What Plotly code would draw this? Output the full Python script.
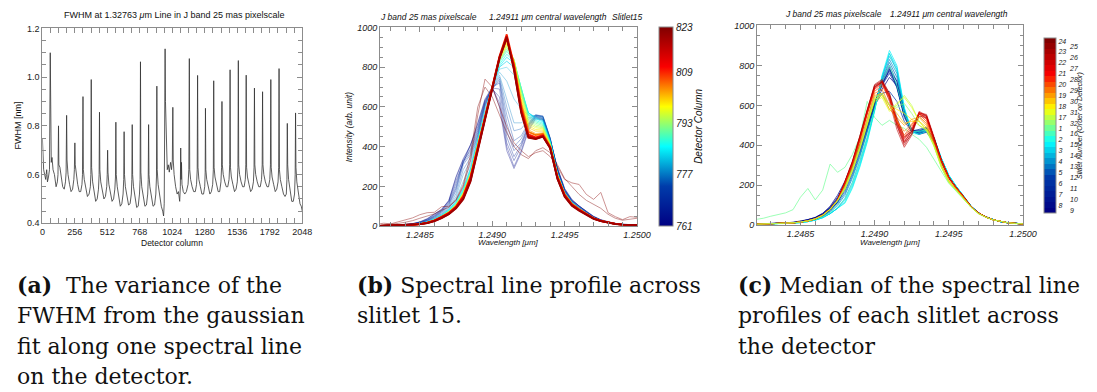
import plotly.graph_objects as go
from plotly.colors import sample_colorscale

# ---------------- data: panel (a) FWHM along detector ----------------
fwhm_col = [0, 4, 10, 18, 26, 34, 40, 48, 56,
            62, 65, 70, 76, 84, 95, 108, 118, 123,
            127, 130, 138, 150, 160, 172, 182, 187,
            191, 194, 202, 214, 226, 238, 248, 252,
            256, 259, 266, 278, 290, 302, 312, 316,
            320, 323, 330, 342, 355, 368, 378, 382,
            385, 388, 396, 408, 420, 432, 442, 447,
            450, 453, 460, 472, 485, 497, 507, 511,
            514, 517, 524, 536, 549, 561, 571, 576,
            579, 582, 590, 602, 614, 626, 636, 641,
            644, 647, 654, 666, 679, 691, 701, 705,
            708, 711, 718, 730, 743, 755, 765, 770,
            773, 776, 783, 795, 808, 820, 830, 834,
            837, 840, 847, 859, 872, 884, 894, 899,
            902, 905, 912, 924, 937, 948, 955, 960, 964,
            967, 970, 974, 978, 984, 992, 1000, 1010, 1018, 1024,
            1028, 1031, 1038, 1050, 1062, 1072, 1082, 1087,
            1090, 1093, 1096, 1100, 1110, 1122, 1135, 1148, 1154,
            1158, 1161, 1168, 1180, 1192, 1205, 1215, 1220,
            1223, 1226, 1233, 1245, 1257, 1270, 1279, 1283,
            1285, 1288, 1295, 1307, 1320, 1332, 1342, 1347,
            1350, 1353, 1360, 1372, 1385, 1397, 1407, 1412,
            1415, 1418, 1425, 1437, 1449, 1461, 1471, 1476,
            1479, 1482, 1489, 1501, 1514, 1526, 1536, 1541,
            1544, 1547, 1554, 1566, 1578, 1590, 1599, 1603,
            1606, 1609, 1616, 1628, 1641, 1653, 1663, 1668,
            1671, 1674, 1681, 1693, 1705, 1717, 1727, 1732,
            1735, 1738, 1745, 1757, 1770, 1782, 1792, 1797,
            1800, 1803, 1810, 1822, 1835, 1847, 1857, 1862,
            1865, 1868, 1875, 1887, 1900, 1912, 1922, 1927,
            1930, 1933, 1940, 1952, 1965, 1977, 1987, 1992,
            1995, 1998, 2005, 2017, 2030, 2040, 2048]
fwhm_val = [0.75, 0.69, 0.62, 0.60, 0.58, 0.62, 0.57, 0.59, 0.62,
            1.10, 0.68, 0.65, 0.67, 0.62, 0.60, 0.55, 0.57, 0.60,
            0.80, 0.64, 0.63, 0.58, 0.55, 0.54, 0.57, 0.61,
            0.843, 0.66, 0.60, 0.56, 0.53, 0.54, 0.58, 0.62,
            0.73, 0.64, 0.60, 0.56, 0.53, 0.53, 0.56, 0.60,
            0.92, 0.62, 0.58, 0.54, 0.51, 0.52, 0.55, 0.60,
            0.99, 0.63, 0.57, 0.53, 0.49, 0.50, 0.54, 0.60,
            0.856, 0.62, 0.57, 0.53, 0.50, 0.51, 0.55, 0.60,
            0.70, 0.61, 0.56, 0.52, 0.49, 0.50, 0.54, 0.59,
            0.815, 0.60, 0.55, 0.51, 0.47, 0.48, 0.52, 0.58,
            0.776, 0.60, 0.55, 0.51, 0.475, 0.48, 0.52, 0.58,
            0.805, 0.60, 0.55, 0.50, 0.465, 0.47, 0.52, 0.58,
            1.063, 0.61, 0.55, 0.51, 0.47, 0.475, 0.52, 0.58,
            0.805, 0.60, 0.55, 0.51, 0.47, 0.475, 0.52, 0.59,
            0.963, 0.62, 0.56, 0.51, 0.47, 0.45, 0.43, 0.48, 0.70,
            1.116, 0.90, 0.84, 0.70, 0.62, 0.64, 0.61, 0.65, 0.62, 0.66,
            0.876, 0.66, 0.60, 0.55, 0.52, 0.53, 0.49, 0.55,
            0.709, 0.58, 0.65, 0.56, 0.53, 0.52, 0.53, 0.56, 0.62,
            1.076, 0.62, 0.58, 0.55, 0.53, 0.53, 0.56, 0.62,
            1.007, 0.63, 0.58, 0.55, 0.52, 0.52, 0.55, 0.61,
            0.872, 0.62, 0.58, 0.55, 0.52, 0.53, 0.56, 0.62,
            0.985, 0.63, 0.59, 0.56, 0.53, 0.53, 0.57, 0.63,
            0.90, 0.64, 0.60, 0.57, 0.55, 0.55, 0.58, 0.64,
            1.03, 0.63, 0.59, 0.56, 0.53, 0.54, 0.57, 0.63,
            1.068, 0.64, 0.60, 0.57, 0.55, 0.55, 0.58, 0.64,
            1.008, 0.63, 0.59, 0.56, 0.53, 0.54, 0.57, 0.63,
            0.955, 0.64, 0.60, 0.57, 0.55, 0.55, 0.58, 0.64,
            0.94, 0.64, 0.60, 0.57, 0.55, 0.55, 0.58, 0.64,
            0.99, 0.63, 0.59, 0.56, 0.53, 0.54, 0.57, 0.63,
            1.035, 0.62, 0.58, 0.55, 0.52, 0.51, 0.52, 0.58,
            0.81, 0.64, 0.58, 0.53, 0.49, 0.49, 0.52, 0.60,
            0.853, 0.63, 0.57, 0.52, 0.48, 0.47, 0.45]
assert len(fwhm_col) == len(fwhm_val)

fwhm_xticks = [0, 256, 512, 768, 1024, 1280, 1536, 1792, 2048]
fwhm_yticks = [0.4, 0.6, 0.8, 1.0, 1.2]

# ---------------- shared wavelength grid (um) for panels (b) and (c) ----------------
wavelength = [1.24820, 1.24825, 1.24830, 1.24835, 1.24840, 1.24845, 1.24850, 1.24855,
              1.24860, 1.24865, 1.24870, 1.24875, 1.24880, 1.24885, 1.24890, 1.24895,
              1.24900, 1.24905, 1.24910, 1.24915, 1.24920, 1.24925, 1.24930, 1.24935,
              1.24940, 1.24945, 1.24950, 1.24955, 1.24960, 1.24965, 1.24970, 1.24975,
              1.24980, 1.24985, 1.24990, 1.24995, 1.25000]
wl_ticks = [1.2485, 1.2490, 1.2495, 1.2500]
int_ticks = [0, 200, 400, 600, 800, 1000]

# ---------------- panel (b): profiles across slitlet 15, per detector column ----------------
slitlet15_columns = [762, 763, 765, 767, 769, 771, 773, 775, 777, 779, 781, 783, 785, 787,
                     789, 791, 793, 795, 797, 799, 801, 803, 805, 809, 813, 817, 820, 822, 823]
slitlet15_profiles = [
    [2, 3, 5, 6, 9, 13, 22, 38, 60, 85, 130, 250, 340, 410, 520, 640, 700, 600, 380, 290, 370, 480, 540, 535, 430, 295, 190, 135, 102, 76, 50, 33, 22, 14, 10, 8, 6],
    [2, 3, 4, 6, 9, 13, 21, 36, 58, 84, 128, 245, 335, 405, 515, 635, 695, 620, 400, 300, 380, 490, 545, 538, 432, 292, 188, 133, 101, 75, 49, 32, 21, 14, 10, 8, 6],
    [2, 3, 4, 6, 8, 12, 20, 35, 55, 80, 125, 230, 320, 400, 500, 630, 690, 650, 420, 330, 400, 500, 550, 540, 435, 290, 185, 130, 100, 74, 48, 31, 21, 13, 9, 7, 6],
    [2, 3, 4, 6, 8, 12, 19, 32, 52, 78, 120, 215, 325, 390, 490, 625, 695, 690, 450, 350, 410, 505, 552, 545, 438, 288, 182, 129, 99, 73, 47, 31, 20, 13, 9, 7, 6],
    [2, 3, 4, 6, 8, 12, 18, 30, 50, 75, 115, 200, 330, 380, 480, 620, 700, 720, 480, 380, 420, 510, 555, 550, 440, 285, 180, 128, 98, 72, 46, 30, 20, 13, 9, 7, 6],
    [2, 3, 4, 5, 8, 11, 17, 29, 47, 72, 110, 190, 320, 370, 470, 615, 695, 730, 520, 400, 440, 515, 558, 552, 442, 282, 179, 126, 96, 71, 46, 30, 20, 13, 9, 7, 6],
    [2, 3, 4, 5, 7, 11, 17, 28, 45, 70, 105, 180, 310, 360, 460, 610, 690, 740, 560, 430, 455, 520, 560, 555, 445, 280, 178, 125, 95, 70, 45, 30, 20, 13, 9, 7, 6],
    [1, 2, 3, 5, 7, 10, 16, 26, 42, 66, 98, 165, 285, 345, 455, 605, 695, 750, 600, 480, 490, 535, 560, 552, 442, 278, 175, 123, 93, 68, 44, 29, 19, 12, 8, 6, 5],
    [1, 2, 3, 5, 7, 10, 15, 24, 40, 62, 92, 150, 260, 330, 450, 600, 700, 760, 640, 520, 520, 545, 558, 548, 440, 275, 172, 122, 92, 66, 43, 29, 19, 12, 8, 6, 5],
    [1, 2, 3, 5, 7, 9, 14, 23, 38, 60, 88, 140, 225, 310, 440, 585, 700, 775, 730, 640, 590, 560, 553, 542, 435, 272, 171, 121, 91, 65, 42, 28, 19, 12, 8, 6, 5],
    [1, 2, 3, 5, 6, 9, 14, 22, 36, 57, 85, 130, 195, 295, 435, 575, 700, 790, 800, 760, 660, 570, 548, 535, 430, 268, 170, 120, 90, 65, 42, 28, 19, 12, 8, 6, 5],
    [1, 2, 3, 4, 6, 8, 13, 21, 35, 55, 82, 125, 188, 288, 430, 572, 700, 800, 830, 800, 690, 570, 545, 530, 428, 266, 169, 119, 89, 64, 42, 28, 19, 12, 8, 6, 5],
    [1, 2, 3, 4, 6, 8, 13, 21, 34, 54, 80, 120, 182, 280, 425, 570, 700, 805, 850, 820, 700, 570, 540, 525, 425, 265, 168, 118, 89, 64, 42, 28, 19, 12, 8, 6, 5],
    [1, 2, 3, 4, 6, 8, 12, 20, 33, 53, 78, 117, 178, 275, 422, 567, 702, 815, 865, 830, 700, 562, 532, 518, 422, 263, 167, 117, 88, 64, 41, 28, 19, 12, 8, 6, 5],
    [1, 2, 3, 4, 6, 8, 12, 20, 33, 52, 76, 114, 175, 270, 420, 565, 705, 825, 880, 835, 700, 555, 525, 512, 420, 262, 166, 117, 88, 64, 41, 28, 19, 12, 8, 6, 5],
    [1, 2, 3, 4, 6, 8, 12, 19, 32, 51, 75, 112, 172, 267, 417, 562, 705, 830, 890, 838, 690, 545, 518, 506, 417, 261, 165, 116, 88, 64, 41, 28, 19, 12, 8, 6, 5],
    [1, 2, 3, 4, 6, 8, 12, 19, 32, 50, 74, 110, 170, 265, 415, 560, 705, 835, 900, 840, 680, 535, 510, 500, 415, 260, 165, 116, 88, 64, 41, 28, 19, 12, 8, 6, 5],
    [1, 2, 3, 4, 6, 8, 12, 19, 31, 49, 73, 108, 167, 262, 412, 557, 705, 838, 908, 838, 668, 525, 502, 495, 412, 259, 164, 115, 87, 63, 41, 27, 18, 12, 8, 6, 5],
    [1, 2, 3, 4, 6, 8, 12, 19, 31, 49, 72, 106, 165, 260, 410, 555, 705, 840, 915, 835, 655, 515, 495, 490, 410, 258, 163, 115, 87, 63, 41, 27, 18, 12, 8, 6, 5],
    [1, 2, 3, 4, 5, 7, 11, 18, 30, 48, 71, 104, 162, 257, 407, 552, 705, 842, 922, 830, 642, 505, 486, 484, 407, 256, 162, 114, 86, 62, 40, 27, 18, 12, 8, 6, 5],
    [1, 2, 3, 4, 5, 7, 11, 18, 30, 47, 70, 103, 160, 255, 405, 550, 705, 845, 930, 825, 630, 495, 478, 478, 405, 255, 162, 114, 86, 62, 40, 27, 18, 12, 8, 6, 5],
    [1, 2, 3, 4, 5, 7, 11, 18, 29, 46, 69, 101, 157, 252, 402, 549, 705, 848, 938, 820, 620, 485, 466, 470, 402, 253, 161, 113, 85, 62, 40, 27, 18, 12, 8, 6, 5],
    [1, 2, 3, 4, 5, 7, 11, 18, 29, 46, 68, 100, 155, 250, 400, 548, 705, 850, 945, 815, 610, 475, 458, 465, 400, 252, 160, 112, 85, 62, 40, 27, 18, 12, 8, 6, 5],
    [1, 2, 3, 4, 5, 7, 11, 17, 28, 44, 65, 96, 148, 240, 390, 540, 705, 855, 965, 810, 595, 462, 447, 458, 398, 248, 158, 110, 84, 61, 40, 27, 18, 12, 8, 6, 5],
    [1, 2, 3, 4, 5, 7, 11, 17, 28, 45, 66, 98, 150, 245, 395, 545, 705, 845, 945, 800, 585, 455, 443, 455, 395, 245, 155, 108, 82, 60, 39, 27, 18, 12, 8, 6, 5],
    [1, 2, 3, 4, 5, 7, 10, 16, 26, 42, 62, 92, 140, 230, 385, 535, 700, 850, 955, 790, 575, 448, 440, 452, 395, 240, 150, 105, 80, 58, 38, 26, 18, 12, 8, 6, 5],
    [1, 2, 3, 4, 5, 7, 10, 16, 25, 40, 60, 90, 135, 225, 380, 530, 700, 845, 950, 785, 570, 445, 438, 450, 392, 238, 148, 103, 78, 57, 37, 25, 17, 11, 8, 6, 5],
    [10, 15, 12, 22, 30, 42, 58, 68, 70, 98, 100, 130, 200, 330, 560, 740, 700, 600, 500, 420, 380, 350, 370, 380, 350, 300, 235, 218, 210, 160, 135, 170, 68, 48, 33, 48, 45],
    [5, 8, 10, 14, 20, 28, 40, 52, 62, 80, 95, 135, 210, 360, 600, 700, 650, 560, 470, 400, 360, 340, 380, 395, 370, 310, 240, 200, 160, 130, 110, 90, 60, 40, 30, 35, 40],
]
assert len(slitlet15_columns) == len(slitlet15_profiles)
detector_col_ticks = [761, 777, 793, 809, 823]

# ---------------- panel (c): median profile of each slitlet ----------------
median_profiles = {
    1: [29, 35, 45, 55, 62, 78, 140, 184, 127, 176, 306, 265, 290, 354, 440, 620, 540, 500, 525, 500, 485, 455, 430, 390, 330, 265, 210, 170, 130, 90, 60, 40, 26, 17, 11, 8, 6],
    2: [4, 5, 6, 7, 8, 10, 13, 18, 26, 38, 58, 85, 110, 185, 290, 415, 570, 740, 860, 770, 570, 460, 455, 468, 435, 335, 250, 195, 148, 96, 62, 42, 28, 18, 12, 9, 7],
    3: [4, 5, 6, 7, 8, 10, 13, 18, 26, 38, 58, 85, 125, 200, 305, 430, 575, 745, 860, 790, 585, 470, 460, 475, 440, 335, 250, 195, 148, 96, 62, 42, 28, 18, 12, 9, 7],
    4: [5, 6, 7, 8, 9, 11, 15, 20, 29, 43, 66, 100, 150, 235, 340, 460, 590, 730, 830, 760, 570, 470, 465, 480, 435, 330, 245, 192, 146, 96, 62, 42, 28, 18, 12, 9, 7],
    5: [5, 6, 7, 8, 10, 12, 16, 22, 32, 48, 75, 115, 170, 255, 360, 480, 600, 720, 800, 720, 560, 470, 470, 485, 430, 320, 240, 188, 143, 95, 62, 42, 28, 18, 12, 9, 7],
    6: [5, 6, 7, 8, 10, 12, 16, 22, 32, 48, 75, 115, 190, 280, 380, 490, 600, 660, 670, 620, 520, 470, 480, 490, 430, 320, 240, 188, 143, 95, 62, 42, 28, 18, 12, 9, 7],
    7: [5, 6, 7, 9, 11, 13, 18, 25, 36, 55, 85, 130, 200, 290, 390, 500, 620, 720, 790, 690, 540, 470, 470, 480, 420, 318, 238, 186, 142, 94, 62, 42, 28, 18, 12, 9, 7],
    8: [6, 7, 8, 9, 11, 14, 19, 27, 38, 58, 90, 140, 210, 300, 395, 500, 610, 700, 780, 720, 570, 470, 455, 465, 415, 318, 238, 185, 140, 94, 61, 41, 27, 18, 12, 9, 7],
    9: [6, 7, 8, 10, 12, 15, 20, 28, 40, 60, 95, 150, 220, 310, 400, 500, 600, 680, 740, 700, 560, 480, 460, 470, 420, 320, 240, 185, 140, 95, 62, 42, 28, 18, 12, 9, 7],
    10: [5, 6, 7, 9, 11, 13, 18, 26, 37, 56, 88, 135, 205, 295, 390, 500, 615, 710, 770, 700, 550, 470, 465, 478, 420, 318, 238, 186, 142, 94, 62, 42, 28, 18, 12, 9, 7],
    11: [5, 6, 7, 8, 10, 12, 17, 24, 35, 52, 82, 125, 195, 285, 385, 495, 610, 700, 760, 690, 550, 475, 475, 485, 425, 320, 240, 188, 143, 95, 62, 42, 28, 18, 12, 9, 7],
    12: [5, 6, 7, 8, 10, 12, 16, 22, 32, 48, 75, 115, 180, 265, 370, 485, 600, 710, 780, 700, 555, 470, 470, 482, 428, 322, 241, 189, 143, 95, 62, 42, 28, 18, 12, 9, 7],
    13: [5, 6, 7, 8, 10, 12, 15, 21, 30, 45, 70, 108, 160, 245, 350, 470, 595, 725, 815, 740, 565, 470, 468, 482, 432, 326, 243, 190, 144, 95, 62, 42, 28, 18, 12, 9, 7],
    14: [4, 5, 6, 7, 8, 10, 13, 18, 26, 38, 58, 85, 135, 215, 320, 440, 580, 740, 845, 780, 580, 470, 465, 480, 440, 335, 250, 195, 148, 96, 62, 42, 28, 18, 12, 9, 7],
    15: [4, 5, 6, 7, 8, 10, 13, 18, 26, 38, 58, 85, 115, 190, 295, 420, 570, 750, 875, 800, 590, 470, 455, 470, 438, 335, 250, 195, 148, 96, 62, 42, 28, 18, 12, 9, 7],
    16: [4, 5, 6, 7, 8, 10, 14, 19, 28, 41, 63, 95, 130, 210, 320, 440, 580, 720, 800, 700, 560, 470, 470, 478, 430, 325, 242, 190, 144, 95, 62, 42, 28, 18, 12, 9, 7],
    17: [5, 6, 7, 8, 10, 12, 16, 22, 32, 50, 80, 125, 185, 275, 385, 510, 630, 650, 580, 600, 650, 600, 520, 475, 395, 290, 215, 175, 135, 90, 58, 40, 27, 18, 12, 9, 7],
    18: [5, 6, 7, 8, 10, 12, 16, 22, 32, 50, 80, 125, 185, 275, 385, 510, 630, 650, 600, 580, 560, 530, 500, 480, 400, 295, 218, 178, 137, 91, 59, 40, 27, 18, 12, 9, 7],
    19: [5, 6, 7, 8, 10, 12, 16, 22, 32, 50, 80, 125, 195, 290, 400, 530, 650, 660, 580, 540, 500, 530, 540, 500, 410, 300, 222, 180, 138, 92, 60, 41, 27, 18, 12, 9, 7],
    20: [5, 6, 7, 8, 10, 12, 16, 22, 32, 50, 80, 125, 205, 300, 420, 555, 670, 700, 630, 530, 450, 500, 555, 520, 420, 325, 240, 188, 143, 94, 61, 41, 27, 18, 12, 9, 7],
    21: [5, 6, 7, 8, 10, 12, 16, 22, 32, 50, 80, 125, 210, 310, 430, 565, 685, 715, 650, 520, 430, 480, 560, 535, 430, 325, 240, 188, 143, 94, 61, 41, 27, 18, 12, 9, 7],
    22: [5, 6, 7, 8, 10, 12, 16, 22, 32, 50, 80, 125, 215, 315, 440, 575, 700, 725, 640, 500, 400, 460, 570, 550, 440, 325, 240, 188, 143, 94, 61, 41, 27, 18, 12, 9, 7],
    23: [5, 6, 7, 8, 10, 12, 16, 22, 32, 50, 80, 125, 220, 320, 445, 580, 705, 730, 660, 520, 420, 470, 565, 548, 440, 325, 240, 188, 143, 94, 61, 41, 27, 18, 12, 9, 7],
    24: [5, 6, 7, 8, 10, 12, 16, 22, 32, 50, 80, 125, 210, 305, 430, 565, 690, 720, 660, 540, 440, 470, 545, 540, 435, 325, 240, 188, 143, 94, 61, 41, 27, 18, 12, 9, 7],
    25: [5, 6, 7, 8, 10, 12, 16, 22, 32, 50, 80, 125, 215, 315, 440, 575, 695, 715, 640, 500, 410, 455, 555, 545, 438, 325, 240, 188, 143, 94, 61, 41, 27, 18, 12, 9, 7],
    26: [5, 6, 7, 8, 10, 12, 16, 22, 32, 50, 80, 125, 220, 320, 445, 580, 700, 720, 620, 480, 390, 450, 560, 555, 445, 325, 240, 188, 143, 94, 61, 41, 27, 18, 12, 9, 7],
    27: [5, 6, 7, 8, 10, 12, 16, 22, 32, 50, 80, 125, 215, 310, 435, 570, 690, 720, 650, 510, 415, 470, 565, 545, 435, 325, 240, 188, 143, 94, 61, 41, 27, 18, 12, 9, 7],
    28: [5, 6, 7, 8, 10, 12, 16, 22, 32, 50, 80, 125, 210, 305, 425, 560, 680, 710, 640, 520, 440, 490, 560, 530, 425, 325, 240, 188, 143, 94, 61, 41, 27, 18, 12, 9, 7],
    29: [5, 6, 7, 8, 10, 12, 16, 22, 32, 50, 80, 125, 200, 295, 410, 540, 660, 680, 600, 520, 470, 510, 545, 510, 415, 310, 230, 183, 140, 93, 60, 41, 27, 18, 12, 9, 7],
    30: [5, 6, 7, 8, 10, 12, 16, 22, 32, 50, 80, 125, 190, 280, 395, 520, 640, 660, 600, 560, 510, 520, 520, 490, 405, 300, 222, 180, 138, 92, 60, 41, 27, 18, 12, 9, 7],
    31: [5, 6, 7, 8, 10, 12, 16, 22, 32, 50, 80, 125, 180, 270, 380, 505, 620, 640, 570, 610, 640, 590, 520, 478, 398, 290, 215, 175, 135, 90, 58, 40, 27, 18, 12, 9, 7],
    32: [5, 6, 7, 8, 10, 12, 16, 22, 32, 48, 78, 120, 190, 280, 390, 520, 640, 660, 600, 590, 610, 560, 500, 470, 400, 290, 215, 175, 135, 90, 58, 40, 27, 18, 12, 9, 7],
}
# slitlet numbers in their order on the detector (bottom of colour bar to top)
slitlet_order = [9, 8, 10, 7, 11, 6, 12, 5, 13, 4, 14, 3, 15, 2, 16, 1,
                 32, 17, 31, 18, 30, 19, 29, 20, 28, 21, 27, 22, 26, 23, 25, 24]

captions = {
    "a": ["<b>(a)</b>  The variance of the", "FWHM from the gaussian",
          "fit along one spectral line", "on the detector."],
    "b": ["<b>(b)</b> Spectral line profile across", "slitlet 15."],
    "c": ["<b>(c)</b> Median of the spectral line", "profiles of each slitlet across",
          "the detector"],
}

# ---------------- layout helpers ----------------
W, H = 1097, 392
def px(x):
    return x / W
def py(y):
    return 1 - y / H

SANS = "Liberation Sans, Arial, Helvetica, sans-serif"
SERIF = "DejaVu Serif, Liberation Serif, serif"
FRAME = "#8c8c8c"

fig = go.Figure()

# panel (a)
fig.add_trace(go.Scatter(x=fwhm_col, y=fwhm_val, mode="lines",
                         line=dict(color="#333333", width=0.8),
                         xaxis="x", yaxis="y", showlegend=False, hoverinfo="skip"))

# panel (b)
for col, prof in zip(slitlet15_columns, slitlet15_profiles):
    assert len(prof) == len(wavelength)
    t = (col - detector_col_ticks[0]) / (detector_col_ticks[-1] - detector_col_ticks[0])
    color = sample_colorscale("Jet", [t])[0]
    if col < 782:
        width, op = 0.7, 0.5
    elif col < 804:
        width, op = 0.8, 0.75
    elif col < 821:
        width, op = 1.8, 1.0
    else:
        width, op = 0.7, 0.6
    fig.add_trace(go.Scatter(x=wavelength, y=prof, mode="lines",
                             line=dict(color=color, width=width), opacity=op,
                             xaxis="x2", yaxis="y2", showlegend=False, hoverinfo="skip"))

# panel (c)
ncs = len(slitlet_order)
band_colors = sample_colorscale("Jet", [k / (ncs - 1) for k in range(ncs)])
for s in sorted(median_profiles):
    prof = median_profiles[s]
    assert len(prof) == len(wavelength)
    pos = slitlet_order.index(s)
    fig.add_trace(go.Scatter(x=wavelength, y=prof, mode="lines",
                             line=dict(color=band_colors[pos], width=0.8),
                             opacity=0.7 if pos > 26 else 0.85,
                             xaxis="x3", yaxis="y3", showlegend=False, hoverinfo="skip"))

# colour bar (b)
fig.add_trace(go.Scatter(
    x=[None], y=[None], mode="markers", xaxis="x2", yaxis="y2", showlegend=False,
    marker=dict(color=[detector_col_ticks[0]], colorscale="Jet",
                cmin=detector_col_ticks[0], cmax=detector_col_ticks[-1], showscale=True,
                colorbar=dict(x=px(666), xanchor="left", y=py(125), yanchor="middle",
                              len=204 / H, thickness=14, xpad=0, ypad=0,
                              outlinewidth=1, outlinecolor=FRAME,
                              tickvals=detector_col_ticks, ticks="",
                              tickfont=dict(family=SANS, size=10, style="italic", color="#222")))))

# colour bar (c) - discrete bands, two staggered label columns
dscale = []
for k, c in enumerate(band_colors):
    dscale.append([k / ncs, c])
    dscale.append([(k + 1) / ncs, c])
ticktext = []
for k, s in enumerate(slitlet_order):
    ticktext.append(str(s) if k % 2 == 1 else "\u2007\u2007\u2007" + str(s))
fig.add_trace(go.Scatter(
    x=[None], y=[None], mode="markers", xaxis="x3", yaxis="y3", showlegend=False,
    marker=dict(color=[0], colorscale=dscale, cmin=-0.5, cmax=ncs - 0.5, showscale=True,
                colorbar=dict(x=px(1057), xanchor="left", y=py(124), yanchor="middle",
                              len=180 / H, thickness=12, xpad=0, ypad=0,
                              outlinewidth=1, outlinecolor=FRAME,
                              tickvals=list(range(ncs)), ticktext=ticktext, ticks="",
                              tickfont=dict(family=SANS, size=7, style="italic", color="#222")))))

def axis_common(**kw):
    d = dict(showline=True, linecolor=FRAME, linewidth=1, mirror="allticks",
             ticks="inside", ticklen=5, tickcolor=FRAME, tickwidth=1,
             showgrid=False, zeroline=False)
    d.update(kw)
    return d

tf_up = dict(family=SANS, size=9, color="#222")
tf_it = dict(family=SANS, size=9, color="#222", style="italic")

fig.update_layout(
    width=W, height=H, margin=dict(l=0, r=0, t=0, b=0),
    paper_bgcolor="white", plot_bgcolor="white", showlegend=False,
    xaxis=axis_common(domain=[px(40), px(304)], range=[0, 2048], anchor="y",
                      tickvals=fwhm_xticks, tickfont=tf_up,
                      minor=dict(dtick=64, ticks="inside", ticklen=5, tickcolor=FRAME)),
    yaxis=axis_common(domain=[py(224), py(24)], range=[0.4, 1.2], anchor="x",
                      tickvals=fwhm_yticks, tickformat=".1f", tickfont=tf_up,
                      minor=dict(dtick=0.05, ticks="inside", ticklen=4, tickcolor=FRAME)),
    xaxis2=axis_common(domain=[px(383), px(644)], range=[1.248225, 1.2500], anchor="y2",
                       tickvals=wl_ticks, tickformat=".4f", tickfont=tf_it,
                       minor=dict(dtick=0.0001, tick0=1.2485, ticks="inside", ticklen=4, tickcolor=FRAME)),
    yaxis2=axis_common(domain=[py(227), py(23)], range=[0, 1000], anchor="x2",
                       tickvals=int_ticks, tickfont=tf_it,
                       minor=dict(dtick=50, ticks="inside", ticklen=3, tickcolor=FRAME)),
    xaxis3=axis_common(domain=[px(766), px(1036)], range=[1.248208, 1.2500], anchor="y3",
                       tickvals=wl_ticks, tickformat=".4f", tickfont=tf_it,
                       minor=dict(dtick=0.0001, tick0=1.2485, ticks="inside", ticklen=4, tickcolor=FRAME)),
    yaxis3=axis_common(domain=[py(226), py(21)], range=[0, 1000], anchor="x3",
                       tickvals=int_ticks, tickfont=tf_it,
                       minor=dict(dtick=50, ticks="inside", ticklen=3, tickcolor=FRAME)),
)

ann = []
def note(text, x, y, size=9, italic=False, family=SANS, xanchor="center", angle=0):
    f = dict(family=family, size=size, color="#111")
    if italic:
        f["style"] = "italic"
    ann.append(dict(text=text, x=px(x), y=py(y), xref="paper", yref="paper",
                    showarrow=False, xanchor=xanchor, yanchor="middle",
                    textangle=angle, font=f))

# titles
note("FWHM at 1.32763 <i>\u03bc</i>m Line in J band 25 mas pixelscale", 174, 10, size=9)
note("J band 25 mas pixelscale", 381, 12.5, italic=True, xanchor="left", size=8.5)
note("1.24911 \u03bcm central wavelength", 492, 12.5, italic=True, xanchor="left", size=8.5)
note("Slitlet15", 617, 12.5, italic=True, xanchor="left", size=8.5)
note("J band 25 mas pixelscale", 792, 9.5, italic=True, xanchor="left", size=8.5)
note("1.24911 \u03bcm central wavelength", 899, 9.5, italic=True, xanchor="left", size=8.5)
# axis titles
note("Detector column", 172, 244, size=8.5)
note("FWHM [nm]", 15, 124, size=9, angle=-90)
note("Wavelength [\u03bcm]", 513, 244, size=8, italic=True)
note("Wavelength [\u03bcm]", 901, 244, size=8, italic=True)
note("Intensity (arb. unit)", 351, 125, size=8.5, italic=True, angle=-90)
# colour bar titles
note("Detector Column", 707, 125, size=10, italic=True, angle=-90)
note("Slitlet Number (Order on Detector)", 1094, 124, size=7, italic=True, angle=-90)

# captions
cap_x = {"a": 12, "b": 358, "c": 745}
for key, lines in captions.items():
    for i, line in enumerate(lines):
        note(line, cap_x[key], 287 + 31.5 * i, size=22, family=SERIF, xanchor="left")

fig.update_layout(annotations=ann)
fig.write_html("out.html")
